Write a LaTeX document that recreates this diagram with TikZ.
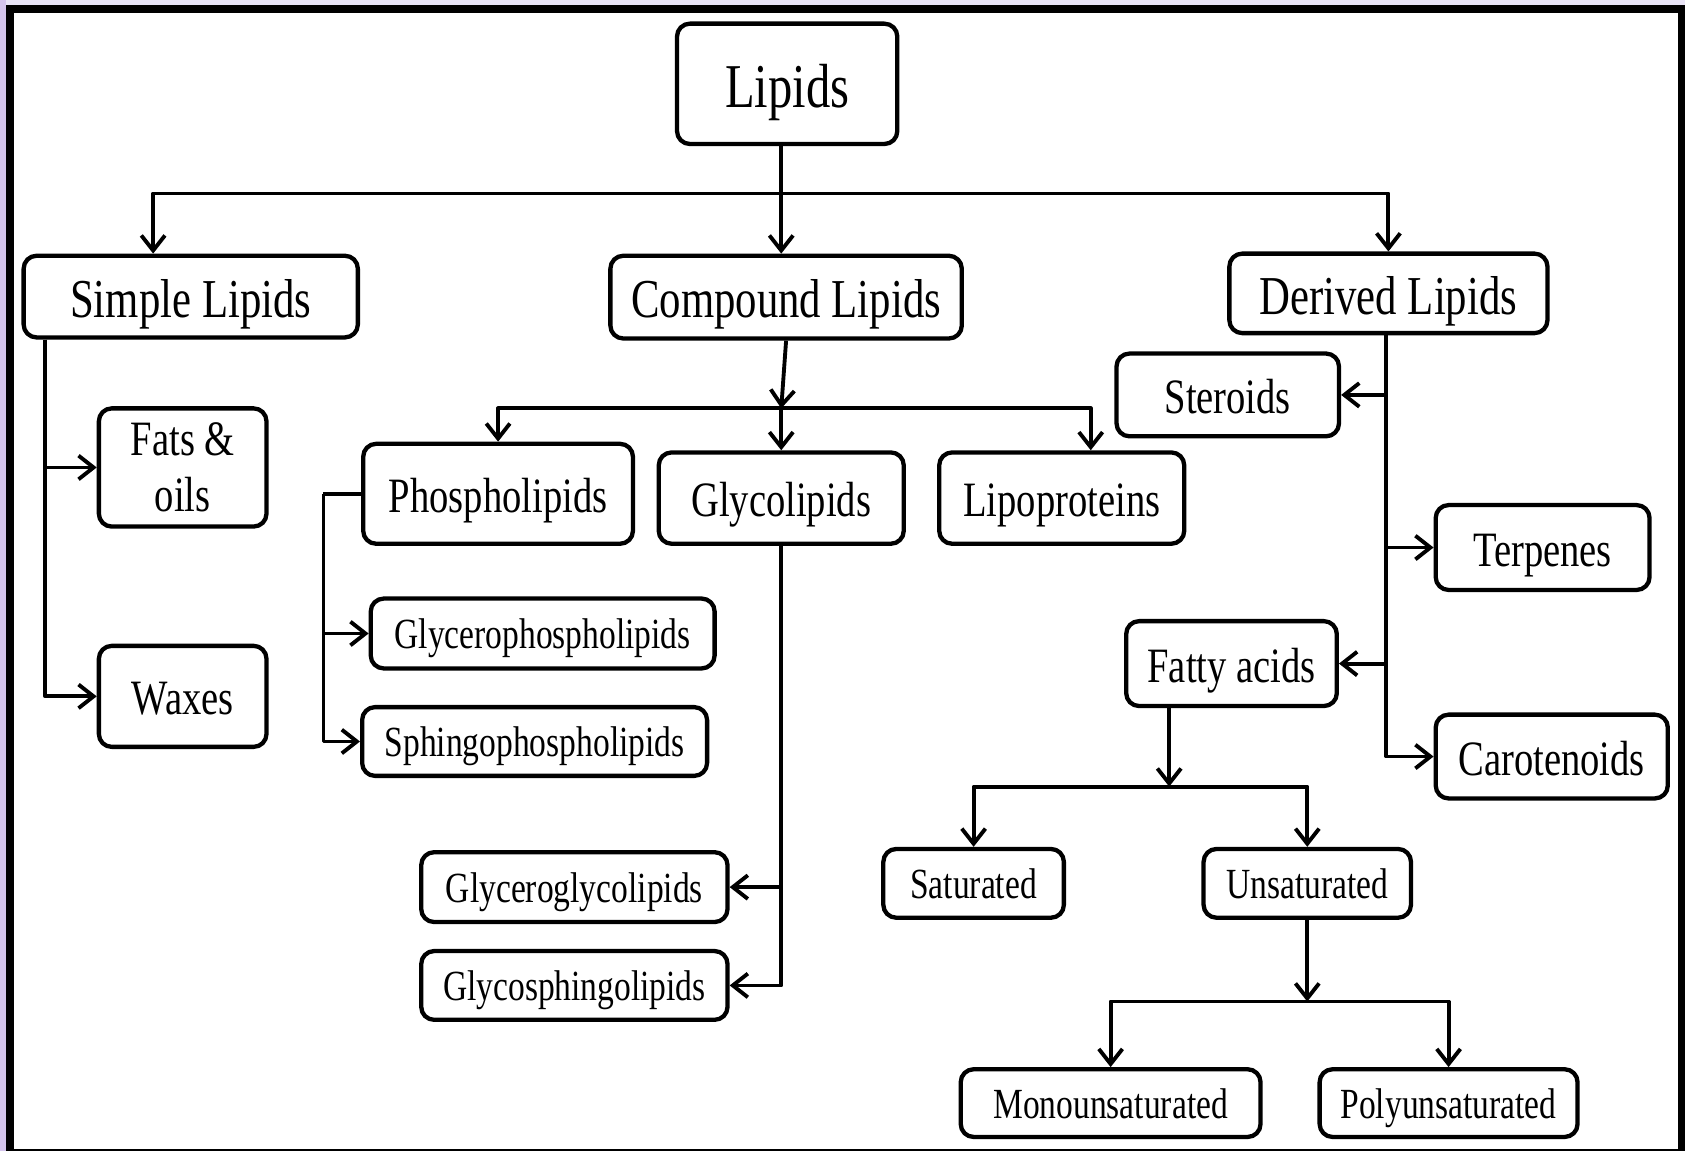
\documentclass[tikz,border=0pt]{standalone}
\usepackage{fontspec}
\setmainfont{Liberation Serif}[FakeStretch=0.78]
\usetikzlibrary{arrows.meta}
\definecolor{lavtop}{RGB}{233,228,246}
\definecolor{lavside}{RGB}{212,196,236}
\begin{document}
\begin{tikzpicture}[x=0.5pt,y=-0.5pt,line join=round,>={Straight Barb[length=7pt,width=11pt]},
	box/.style={draw,rounded corners=6pt,line width=2pt,align=center,inner sep=0pt},
	link/.style={line width=1.8pt},
	fxl/.style={font=\fontsize{29}{32}\selectfont,text height=26pt,text depth=4.4pt},
	fl/.style={font=\fontsize{25.5}{28}\selectfont,text height=23pt,text depth=3.8pt},
	fm/.style={font=\fontsize{23}{26}\selectfont,text height=20.7pt,text depth=3.5pt},
	fs/.style={font=\fontsize{20}{22}\selectfont,text height=17pt,text depth=3pt}]
	% frame
	\useasboundingbox(0,0)rectangle(1568,1071);
	\fill[lavtop](0,0)rectangle(1568,1071);
	\fill[lavside](0,0)rectangle(5.6,1071);
	\fill[black](5.6,4.6)rectangle(1568,1071);
	\fill[white](13,12)rectangle(1561.5,1069);
	% boxes
	\node[box,fxl,minimum width=205*0.5pt,minimum height=112*0.5pt](L)at(732.5,78){Lipids};
	\foreach \n/\x/\y/\w/\h/\t in{S/177.5/276/311/76/Simple Lipids,C/731.5/276.5/327/77/Compound Lipids,D/1292/273/296/74/Derived Lipids}
	\node[box,fl,minimum width=\w*0.5pt,minimum height=\h*0.5pt](\n)at(\x,\y){\t};
	\node[box,font=\fontsize{23}{26}\selectfont,minimum width=156*0.5pt,minimum height=110*0.5pt](F)at(170,435){Fats \&\\oils};
	\foreach \n/\x/\y/\w/\h/\t in{W/170/648/156/94/Waxes,P/463.5/459.5/251/93/Phospholipids,G/727/463.5/228/85/Glycolipids,LP/988/463.5/228/85/Lipoproteins,ST/1142.5/367.5/207/77/Steroids,T/1435.5/509.5/199/79/Terpenes,FA/1146/617.5/196/79/Fatty acids,CA/1444/704/216/78/Carotenoids}
	\node[box,fm,minimum width=\w*0.5pt,minimum height=\h*0.5pt](\n)at(\x,\y){\t};
	\foreach \n/\x/\y/\w/\h/\t in{GP/505/589.5/320/65/Glycerophospholipids,SP/497.5/690/321/64/Sphingophospholipids,GG/534.5/825.5/285/65/Glyceroglycolipids,GS/534.5/917/285/64/Glycosphingolipids,SA/906/822/168/64/Saturated,US/1216.5/822/193/64/Unsaturated,MU/1033.5/1026.5/279/63/Monounsaturated,PU/1348/1026.5/240/63/Polyunsaturated}
	\node[box,fs,minimum width=\w*0.5pt,minimum height=\h*0.5pt](\n)at(\x,\y){\t};
	% first level
	\path([xshift=-2.75pt]L.south)++(0,44)coordinate(b1);
	\draw[link,->]([xshift=-2.75pt]L.south)--([xshift=-2.25pt]C.north);
	\draw[link,->](b1)-|([xshift=-17.5pt]S.north);
	\draw[link,->](b1)-|(D.north);
	% simple lipids
	\draw[link,->]([xshift=11pt]S.south west)|-(F.west);
	\draw[link,->]([xshift=11pt]S.south west)|-(W.west);
	% compound lipids
	\path(C.south)++(-4.5,63)coordinate(b2);
	\draw[link,->](C.south)--(b2);
	\draw[link,->](b2)--(G.north);
	\draw[link,->](b2)-|(P.north);
	\draw[link,->](b2)-|([xshift=13.5pt]LP.north);
	\draw[link](P.west)--++(-35,0)coordinate(p1);
	\draw[link,->](p1)|-(GP.west);
	\draw[link,->](p1)|-(SP.west);
	\draw[link,->](G.south)|-(GG.east);
	\draw[link,->](G.south)|-(GS.east);
	% derived lipids
	\foreach \d/\a in{ST/east,T/west,FA/east,CA/west}
	\draw[link,->]([xshift=-1pt]D.south)|-(\d.\a);
	\draw[link,->]([xshift=-29pt]FA.south)--++(0,73)coordinate(b3);
	\draw[link,->](b3)-|(SA.north);
	\draw[link,->](b3)-|(US.north);
	\draw[link,->](US.south)--++(0,76)coordinate(b4);
	\draw[link,->](b4)-|(MU.north);
	\draw[link,->](b4)-|(PU.north);
\end{tikzpicture}
\end{document}
